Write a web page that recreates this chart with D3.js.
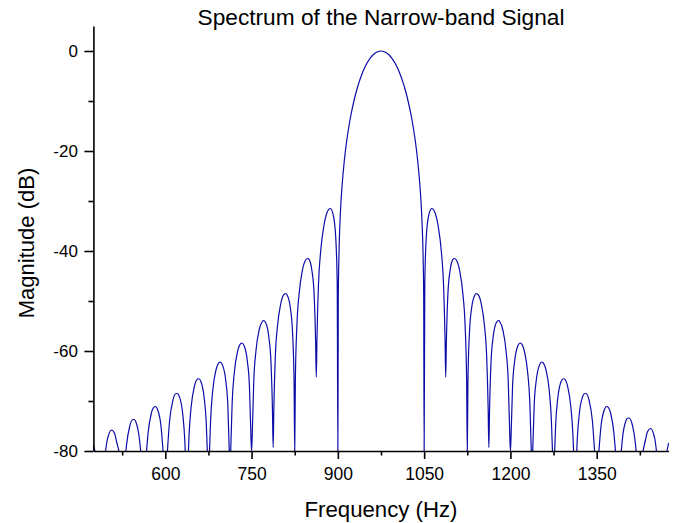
<!DOCTYPE html>
<html><head><meta charset="utf-8">
<script src="https://cdn.jsdelivr.net/npm/d3@7"></script>
<style>
body{margin:0;background:#fff}
svg{display:block}
text{font-family:"Liberation Sans",Arial,Helvetica,sans-serif;fill:#000}
</style>
</head><body>
<svg id="chart" width="680" height="523"></svg>
<script>
// ---- data (frequency in Hz, magnitude in dB) ----
// values below the -80 dB floor (nulls outside the plotted range) are marked -100
const freqLeft = [
  475, 477.6, 487.5,
  496.1, 498.75, 500.625, 506.25, 511.875, 515.625, 519.4, 525,
  531.5, 532.5, 538.125, 543.75, 545.625, 549.375, 555, 557.2, 562.5,
  567.4, 570, 575.625, 581.25, 583.125, 586.875, 592.5, 596.1, 600,
  603.7, 607.5, 613.125, 618.75, 620.625, 624.375, 630, 633.75, 634.7, 637.5,
  640.2, 641.25, 645, 650.625, 656.25, 658.125, 661.875, 667.5, 671.25, 673.05, 675,
  676.9, 678.75, 682.5, 688.125, 693.75, 695.625, 699.375, 705, 708.75, 711.2, 712.5,
  713.7, 716.25, 720, 725.625, 731.25, 733.125, 736.875, 742.5, 746.25, 748.875, 750,
  751.125, 753.75, 757.5, 763.125, 768.75, 770.625, 774.375, 780, 783.75, 786.375, 787.5,
  788.625, 791.25, 795, 800.625, 806.25, 810, 811.875, 817.5, 821.25, 823.875, 825,
  826.125, 828.75, 832.5, 838.125, 843.75, 847.5, 849.375, 855, 858.75, 861.375, 862.5,
  863.625, 866.25, 870, 875.625, 881.25, 886.875, 892.5, 896.25, 898.875, 900
];
const magLeft = [
  -78.8, -80, -100,
  -80, -78.0, -77.1, -75.8, -76.5, -78.3, -80, -100,
  -80, -78.9, -75.05, -73.7, -73.7, -74.35, -77.6, -80, -100,
  -80, -76.5, -72.5, -71.15, -71.1, -71.8, -75.0, -80, -100,
  -80, -73.95, -69.9, -68.5, -68.5, -69.1, -72.3, -77.6, -80, -100,
  -80, -77.0, -71.1, -67.05, -65.6, -65.55, -66.1, -69.3, -74.5, -80, -100,
  -80, -73.9, -67.9, -63.8, -62.3, -62.2, -62.8, -65.8, -71.0, -80, -100,
  -80, -70.3, -64.3, -60.1, -58.5, -58.4, -58.9, -61.9, -67.0, -77.05, -80,
  -76.8, -66.1, -60.1, -55.8, -54.1, -53.9, -54.3, -57.2, -62.3, -72.2, -79.3,
  -71.9, -61.2, -55.05, -50.6, -48.7, -48.5, -48.8, -51.45, -56.4, -66.2, -80,
  -65.8, -55.0, -48.7, -44.0, -41.85, -41.5, -41.6, -44.0, -48.7, -58.4, -65.2,
  -57.8, -46.8, -40.2, -35.0, -32.3, -31.5, -33.1, -37.2, -46.5, -80
];
const freqMain = [
  900.75, 901.875, 903.75, 905.625, 907.5, 911.25, 915, 918.75, 922.5, 928.125, 933.75,
  937.5, 941.25, 946.875, 956.25, 965.625, 975, 984.375, 993.75, 1003.125, 1008.75,
  1012.5, 1016.25, 1021.875, 1027.5, 1031.25, 1035, 1038.75, 1042.5, 1044.375, 1046.25,
  1048.125, 1049.25
];
const magMain = [
  -49.2, -40.8, -34.05, -29.8, -26.7, -21.9, -18.3, -15.4, -12.95, -9.9, -7.4,
  -6.02, -4.8, -3.27, -1.42, -0.35, 0, -0.35, -1.42, -3.27, -4.8,
  -6.02, -7.4, -9.9, -12.95, -15.4, -18.3, -21.9, -26.7, -29.8, -34.05,
  -40.8, -49.2
];
const freqRight = [
  1050,
  1051.125, 1053.75, 1057.5, 1063.125, 1068.75, 1074.375, 1080, 1083.75, 1086.375, 1087.5,
  1088.625, 1091.25, 1095, 1100.625, 1102.5, 1106.25, 1111.875, 1117.5, 1121.25, 1123.875, 1125,
  1126.125, 1128.75, 1132.5, 1138.125, 1140, 1143.75, 1149.375, 1155, 1158.75, 1161.375, 1162.5,
  1163.625, 1166.25, 1170, 1175.625, 1179.375, 1181.25, 1186.875, 1192.5, 1196.25, 1198.875, 1200,
  1201.125, 1203.75, 1207.5, 1213.125, 1216.875, 1218.75, 1224.375, 1230, 1233.75, 1236.3, 1237.5,
  1238.8, 1241.25, 1245, 1250.625, 1254.375, 1256.25, 1261.875, 1267.5, 1271.25, 1273.1, 1275,
  1276.95, 1278.75, 1282.5, 1288.125, 1291.875, 1293.75, 1299.375, 1305, 1308.75, 1309.8, 1312.5,
  1315.3, 1316.25, 1320, 1325.625, 1329.375, 1331.25, 1336.875, 1342.5, 1346.3, 1350,
  1353.9, 1357.5, 1363.125, 1366.875, 1368.75, 1374.375, 1380, 1382.6, 1387.5,
  1392.8, 1395, 1400.625, 1404.375, 1406.25, 1411.875, 1417.5, 1418.5, 1425,
  1430.6, 1434.375, 1438.125, 1443.75, 1449.375, 1451.25, 1453.9, 1462.5,
  1472.2, 1475
];
const magRight = [
  -80,
  -46.5, -37.2, -33.1, -31.5, -32.3, -35.0, -40.2, -46.8, -57.8, -65.2,
  -58.4, -48.7, -44.0, -41.6, -41.5, -41.85, -44.0, -48.7, -55.0, -65.8, -80,
  -66.2, -56.4, -51.45, -48.8, -48.5, -48.7, -50.6, -55.05, -61.2, -71.9, -79.3,
  -72.2, -62.3, -57.2, -54.3, -53.9, -54.1, -55.8, -60.1, -66.1, -76.8, -80,
  -77.05, -67.0, -61.9, -58.9, -58.4, -58.5, -60.1, -64.3, -70.3, -80, -100,
  -80, -71.0, -65.8, -62.8, -62.2, -62.3, -63.8, -67.9, -73.9, -80, -100,
  -80, -74.5, -69.3, -66.1, -65.55, -65.6, -67.05, -71.1, -77.0, -80, -100,
  -80, -77.6, -72.3, -69.1, -68.5, -68.5, -69.9, -73.95, -80, -100,
  -80, -75.0, -71.8, -71.1, -71.15, -72.5, -76.5, -80, -100,
  -80, -77.3, -74.0, -73.4, -73.4, -74.75, -78.7, -80, -100,
  -80, -78.0, -76.2, -75.5, -76.8, -77.7, -80, -100,
  -80, -78.4
];
const xMajorTicks = [600, 750, 900, 1050, 1200, 1350];
const xMinorTicks = [525, 675, 825, 975, 1125, 1275, 1425];
const yMajorTicks = [-80, -60, -40, -20, 0];
const yMinorTicks = [-70, -50, -30, -10];
const titleText = "Spectrum of the Narrow-band Signal";
const xLabelText = "Frequency (Hz)";
const yLabelText = "Magnitude (dB)";

// ---- build points ----
const freqs = freqLeft.concat(freqMain, freqRight);
const mags = magLeft.concat(magMain, magRight);
const points = freqs.map((f, i) => ({f: f, m: mags[i]}));

const svg = d3.select("#chart");
const x = d3.scaleLinear().domain([475, 1475]).range([93.4, 668.6]);
const y = d3.scaleLinear().domain([-80, 5]).range([451, 26]);

// curve
const line = d3.line()
  .defined(d => d.m >= -80)
  .x(d => x(d.f))
  .y(d => y(d.m))
  .curve(d3.curveMonotoneX);

svg.append("path")
  .datum(points)
  .attr("fill", "none")
  .attr("stroke", "#0c0ca8")
  .attr("stroke-width", 1.2)
  .attr("stroke-linejoin", "round")
  .attr("d", line);

// axes
const fmt = d => String(d);
const xMinor = svg.append("g").attr("transform", "translate(0,451)")
  .call(d3.axisBottom(x).tickValues(xMinorTicks).tickSize(4.5).tickSizeOuter(0).tickFormat(""));
xMinor.select(".domain").remove();
const xMajor = svg.append("g").attr("transform", "translate(0,451)")
  .call(d3.axisBottom(x).tickValues(xMajorTicks).tickSize(8).tickSizeOuter(0).tickPadding(8.3).tickFormat(fmt));
const yMinor = svg.append("g").attr("transform", "translate(93.4,0)")
  .call(d3.axisLeft(y).tickValues(yMinorTicks).tickSize(5).tickSizeOuter(0).tickFormat(""));
yMinor.select(".domain").remove();
const yMajor = svg.append("g").attr("transform", "translate(93.4,0)")
  .call(d3.axisLeft(y).tickValues(yMajorTicks).tickSize(9).tickSizeOuter(0).tickPadding(6.5).tickFormat(fmt));

svg.selectAll(".domain, .tick line").attr("stroke", "#000").attr("stroke-width", 1.6);
svg.selectAll(".tick text").attr("font-family", '"Liberation Sans",Arial,sans-serif').attr("fill", "#000");
xMajor.selectAll(".tick text").attr("font-size", 17.5);
yMajor.selectAll(".tick text").attr("font-size", 17);

// title and labels
svg.append("text").attr("x", 381).attr("y", 25).attr("text-anchor", "middle")
  .attr("font-size", 22.7).text(titleText);
svg.append("text").attr("x", 381).attr("y", 517.3).attr("text-anchor", "middle")
  .attr("font-size", 22.2).text(xLabelText);
svg.append("text").attr("transform", "translate(34,243) rotate(-90)").attr("text-anchor", "middle")
  .attr("font-size", 22).text(yLabelText);
</script>
</body></html>
